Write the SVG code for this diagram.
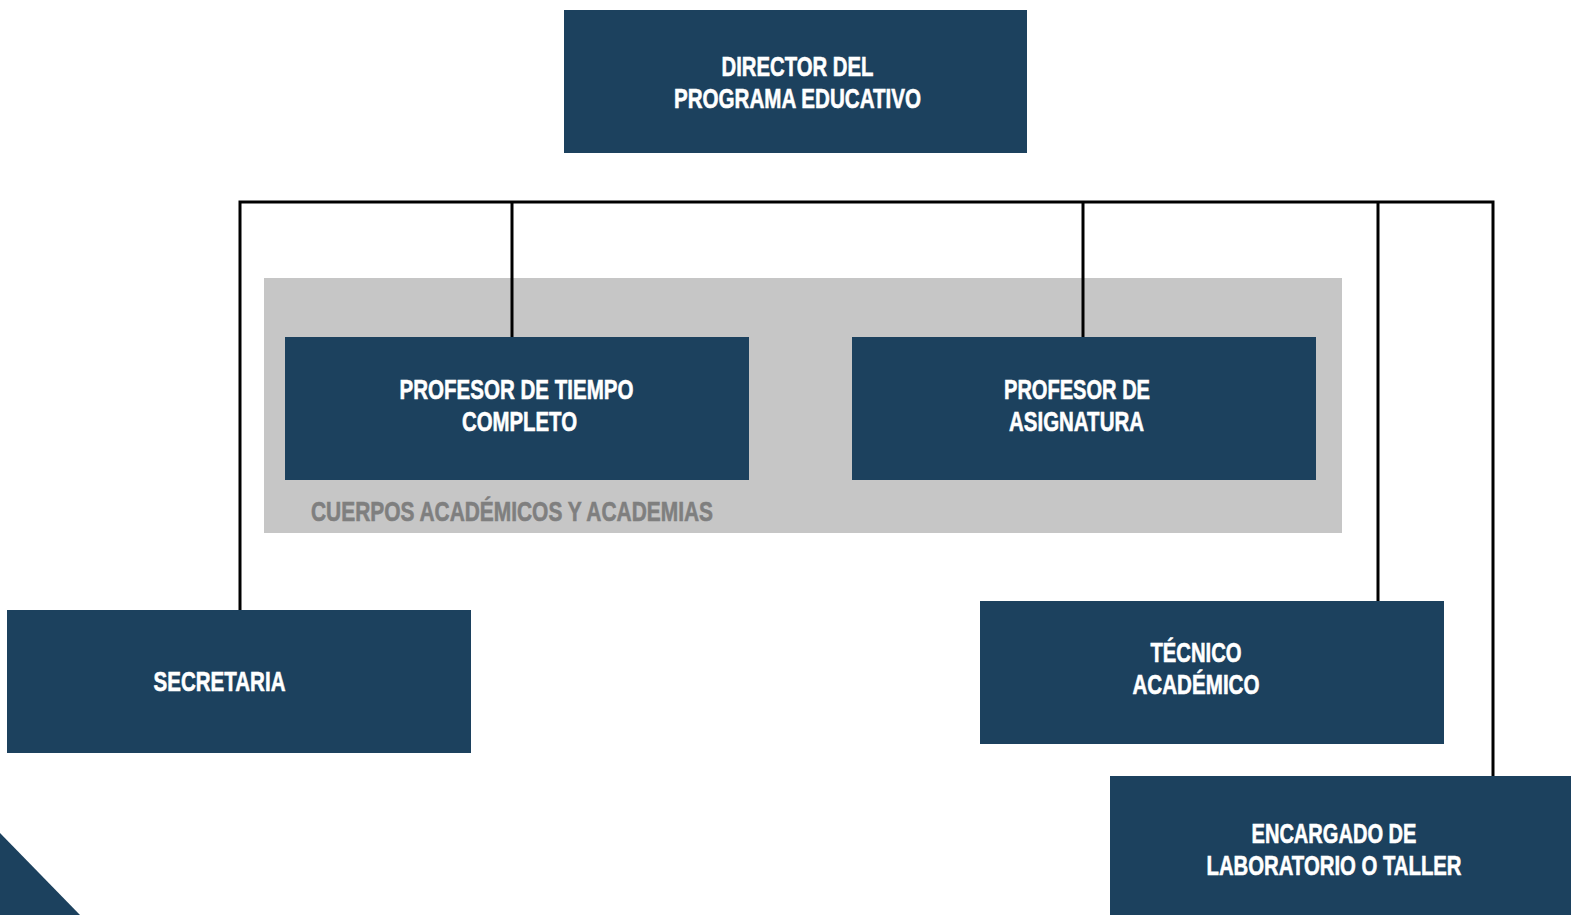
<svg xmlns="http://www.w3.org/2000/svg" width="1571" height="915" viewBox="0 0 1571 915">
<style>
.box{fill:#1C415E;}
.t{font-family:"Liberation Sans",Arial,sans-serif;font-weight:bold;font-size:28px;fill:#FFFFFF;stroke:#FFFFFF;stroke-width:0.6;text-anchor:middle;}
.g{font-family:"Liberation Sans",Arial,sans-serif;font-weight:bold;font-size:28px;fill:#7F7F7F;stroke:#7F7F7F;stroke-width:0.6;}
.c{stroke:#000;stroke-width:3;fill:none;}
</style>
<rect width="1571" height="915" fill="#FFFFFF"/>
<polygon points="0,833 80,915 0,915" fill="#1C415E"/>
<g id="grupo-cuerpos">
<rect x="264" y="278" width="1078" height="255" fill="#C6C6C6"/>
<text class="g" x="311" y="521" textLength="402" lengthAdjust="spacingAndGlyphs">CUERPOS ACADÉMICOS Y ACADEMIAS</text>
</g>
<g id="connectors">
<polyline class="c" points="240,610 240,202 1493,202 1493,776"/>
<line class="c" x1="512" y1="202" x2="512" y2="337"/>
<line class="c" x1="1083" y1="202" x2="1083" y2="337"/>
<line class="c" x1="1378" y1="202" x2="1378" y2="601"/>
</g>
<g id="director">
<rect class="box" x="564" y="10" width="463" height="143"/>
<text class="t" x="797.5" y="76" textLength="152" lengthAdjust="spacingAndGlyphs">DIRECTOR DEL</text>
<text class="t" x="797.5" y="108" textLength="247" lengthAdjust="spacingAndGlyphs">PROGRAMA EDUCATIVO</text>
</g>
<g id="profesor-tiempo-completo">
<rect class="box" x="285" y="337" width="464" height="143"/>
<text class="t" x="516.5" y="399" textLength="234" lengthAdjust="spacingAndGlyphs">PROFESOR DE TIEMPO</text>
<text class="t" x="519.5" y="431" textLength="115" lengthAdjust="spacingAndGlyphs">COMPLETO</text>
</g>
<g id="profesor-asignatura">
<rect class="box" x="852" y="337" width="464" height="143"/>
<text class="t" x="1077" y="399" textLength="146" lengthAdjust="spacingAndGlyphs">PROFESOR DE</text>
<text class="t" x="1076.5" y="431" textLength="135" lengthAdjust="spacingAndGlyphs">ASIGNATURA</text>
</g>
<g id="secretaria">
<rect class="box" x="7" y="610" width="464" height="143"/>
<text class="t" x="219.5" y="691" textLength="132" lengthAdjust="spacingAndGlyphs">SECRETARIA</text>
</g>
<g id="tecnico-academico">
<rect class="box" x="980" y="601" width="464" height="143"/>
<text class="t" x="1196" y="662" textLength="91" lengthAdjust="spacingAndGlyphs">TÉCNICO</text>
<text class="t" x="1196" y="694" textLength="127" lengthAdjust="spacingAndGlyphs">ACADÉMICO</text>
</g>
<g id="encargado-laboratorio">
<rect class="box" x="1110" y="776" width="461" height="139"/>
<text class="t" x="1334" y="843" textLength="165" lengthAdjust="spacingAndGlyphs">ENCARGADO DE</text>
<text class="t" x="1334" y="875" textLength="255" lengthAdjust="spacingAndGlyphs">LABORATORIO O TALLER</text>
</g>
</svg>
